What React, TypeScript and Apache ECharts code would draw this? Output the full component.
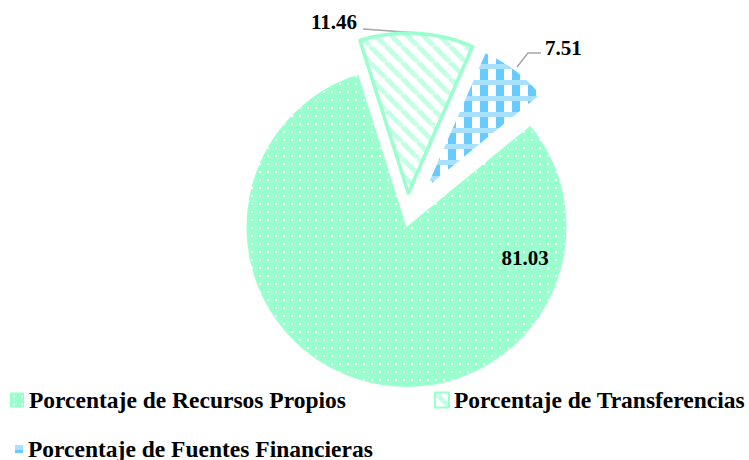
import React, { useEffect, useRef } from 'react';
import * as echarts from 'echarts';

const categories = [
  'Porcentaje de Recursos Propios',
  'Porcentaje de Transferencias',
  'Porcentaje de Fuentes Financieras',
];
const values = [81.03, 11.46, 7.51];
const labelTexts = ['81.03', '11.46', '7.51'];

const MINT = '#99FFCC';
const BLUE = '#66CCFF';
const FONT = '"Liberation Serif", "Times New Roman", serif';

function makeDots(): HTMLCanvasElement {
  const c = document.createElement('canvas');
  c.width = 8;
  c.height = 8;
  const g = c.getContext('2d')!;
  g.fillStyle = MINT;
  g.fillRect(0, 0, 8, 8);
  g.fillStyle = '#FFFFFF';
  g.fillRect(3, 3, 2, 2);
  return c;
}

function makeStripes(): HTMLCanvasElement {
  const c = document.createElement('canvas');
  c.width = 16;
  c.height = 16;
  const g = c.getContext('2d')!;
  g.fillStyle = '#FFFFFF';
  g.fillRect(0, 0, 16, 16);
  g.strokeStyle = '#C2FFE4';
  g.lineWidth = 5;
  for (const k of [-16, 0, 16]) {
    g.beginPath();
    g.moveTo(k, 0);
    g.lineTo(k + 16, 16);
    g.stroke();
  }
  return c;
}

function makePlaid(): HTMLCanvasElement {
  const c = document.createElement('canvas');
  c.width = 16;
  c.height = 16;
  const g = c.getContext('2d')!;
  g.fillStyle = '#FFFFFF';
  g.fillRect(0, 0, 16, 16);
  g.fillStyle = '#A8E0FF';
  g.fillRect(0, 0, 16, 5);
  g.fillStyle = BLUE;
  g.fillRect(0, 5, 8, 11);
  return c;
}

export default function App() {
  const ref = useRef<HTMLDivElement>(null);
  useEffect(() => {
    if (!ref.current) return;
    const chart = echarts.init(ref.current, undefined, { renderer: 'svg' });
    const fills = [
      { image: makeDots(), repeat: 'repeat' },
      { image: makeStripes(), repeat: 'repeat' },
      { image: makePlaid(), repeat: 'repeat' },
    ];
    const hidden = {
      itemStyle: { color: 'rgba(0,0,0,0)', borderWidth: 0 },
      label: { show: false },
      labelLine: { show: false },
    };
    const textStyleBold = {
      fontFamily: FONT,
      fontWeight: 'bold',
      color: '#000000',
    };
    const legendBase = {
      orient: 'horizontal',
      icon: 'rect',
      padding: 0,
      selectedMode: false,
      textStyle: { ...textStyleBold, fontSize: 23.5 },
    };
    const lineStyle = { stroke: '#A6A6A6', lineWidth: 1.5, fill: 'none' };
    const labelFont = `bold 21px ${FONT}`;
    chart.setOption({
      animation: false,
      backgroundColor: '#FFFFFF',
      legend: [
        { ...legendBase, data: [categories[0]], left: 10, top: 388, itemWidth: 14, itemHeight: 15 },
        { ...legendBase, data: [categories[1]], left: 434, top: 388, itemWidth: 14, itemHeight: 15 },
        { ...legendBase, data: [categories[2]], left: 15, top: 437, itemWidth: 8, itemHeight: 8 },
      ],
      graphic: [
        {
          type: 'text',
          left: 311,
          top: 11,
          style: { text: labelTexts[1], fill: '#000', font: labelFont },
        },
        {
          type: 'polyline',
          shape: { points: [[363, 29], [419, 33]] },
          style: lineStyle,
        },
        {
          type: 'text',
          left: 545,
          top: 37,
          style: { text: labelTexts[2], fill: '#000', font: labelFont },
        },
        {
          type: 'polyline',
          shape: { points: [[541, 53], [528, 53], [517, 67]] },
          style: lineStyle,
        },
      ],
      series: [
        {
          type: 'pie',
          center: [406.5, 227],
          radius: 160,
          startAngle: 39.3,
          clockwise: true,
          selectedMode: 'multiple',
          selectedOffset: 34,
          avoidLabelOverlap: false,
          emphasis: { disabled: true },
          data: [
            {
              name: categories[0],
              value: values[0],
              itemStyle: { color: fills[0], borderWidth: 0 },
              label: {
                show: true,
                position: 'inside',
                formatter: labelTexts[0],
                ...textStyleBold,
                fontSize: 21,
              },
              labelLine: { show: false },
            },
            {
              name: categories[1],
              value: values[1],
              selected: true,
              itemStyle: { color: fills[1], borderColor: MINT, borderWidth: 3.5 },
              label: { show: false },
              labelLine: { show: false },
            },
            { name: '', value: values[2], ...hidden },
          ],
          labelLayout: (params: any) =>
            params.dataIndex === 0
              ? { x: 525, y: 258, align: 'center', verticalAlign: 'middle' }
              : {},
        },
        {
          type: 'pie',
          center: [427, 187],
          radius: 146,
          startAngle: 39.3,
          clockwise: true,
          avoidLabelOverlap: false,
          emphasis: { disabled: true },
          data: [
            { name: ' ', value: values[0] + values[1], ...hidden },
            {
              name: categories[2],
              value: values[2],
              itemStyle: { color: fills[2], borderWidth: 0 },
              label: { show: false },
              labelLine: { show: false },
            },
          ],
        },
      ],
    });
    return () => chart.dispose();
  }, []);
  return (
    <div
      ref={ref}
      style={{ position: 'fixed', left: 0, top: 0, width: 749, height: 460 }}
    />
  );
}
